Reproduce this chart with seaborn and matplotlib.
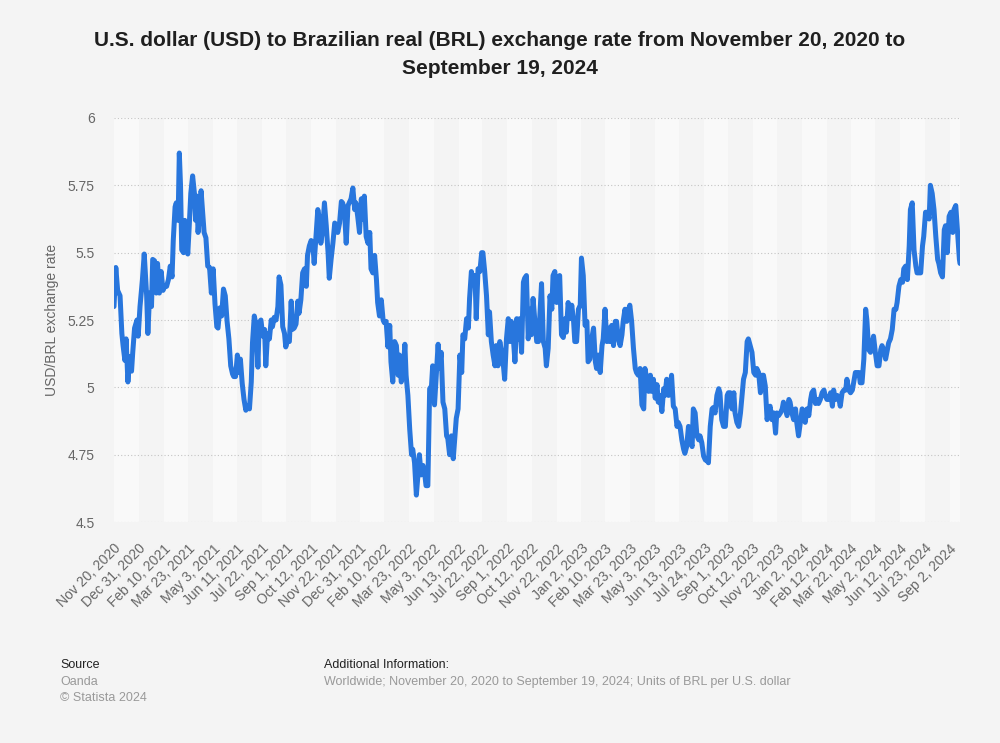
import matplotlib
matplotlib.use("Agg")
import matplotlib.pyplot as plt
import pandas as pd
import seaborn as sns

# USD/BRL rate; x as days after the first date
start_date = "2020-11-20"
end_date = "2024-09-19"

day_offset = [
    0, 3, 6, 10, 13, 15, 18, 20, 23, 26, 29, 31, 34, 38, 40, 43, 47, 50, 54, 56,
    59, 62, 64, 67, 70, 72, 75, 78, 81, 84, 87, 90, 93, 96, 98, 101, 103, 106, 108, 110,
    112, 115, 117, 119, 122, 124, 127, 130, 133, 135, 137, 139, 142, 144, 146, 149, 152, 155, 158, 161,
    164, 167, 170, 172, 175, 178, 181, 184, 187, 190, 193, 196, 198, 201, 204, 207, 209, 212, 215, 218,
    220, 224, 227, 229, 232, 235, 238, 240, 243, 246, 249, 251, 254, 257, 260, 262, 265, 268, 271, 273,
    276, 279, 282, 284, 287, 290, 293, 295, 298, 301, 304, 306, 309, 312, 315, 318, 320, 323, 326, 329,
    331, 334, 337, 340, 342, 345, 348, 351, 354, 356, 359, 362, 365, 367, 370, 373, 376, 378, 381, 384,
    387, 389, 392, 395, 398, 400, 403, 406, 409, 411, 414, 417, 420, 423, 425, 428, 431, 434, 436, 439,
    442, 445, 447, 450, 453, 456, 458, 461, 464, 467, 470, 472, 475, 478, 481, 483, 486, 489, 492, 494,
    497, 500, 503, 505, 508, 511, 514, 516, 519, 522, 525, 527, 530, 533, 536, 538, 541, 544, 547, 550,
    552, 555, 558, 561, 563, 566, 569, 572, 575, 577, 580, 583, 586, 588, 591, 594, 597, 599, 602, 605,
    608, 610, 613, 616, 619, 621, 624, 627, 630, 632, 635, 638, 641, 644, 646, 649, 652, 655, 657, 660,
    663, 666, 668, 671, 674, 677, 679, 682, 685, 688, 690, 693, 696, 699, 702, 704, 707, 710, 713, 715,
    718, 721, 724, 726, 729, 732, 735, 737, 740, 743, 746, 748, 751, 754, 757, 760, 762, 765, 768, 771,
    773, 776, 779, 782, 784, 787, 790, 793, 796, 798, 801, 804, 807, 809, 812, 815, 818, 820, 823, 826,
    829, 831, 834, 837, 840, 842, 845, 848, 851, 853, 856, 859, 862, 864, 867, 870, 873, 876, 878, 881,
    884, 887, 889, 892, 895, 898, 900, 903, 906, 909, 911, 914, 917, 920, 922, 925, 928, 931, 933, 936,
    939, 942, 944, 947, 950, 953, 956, 958, 961, 964, 967, 969, 972, 975, 978, 980, 983, 986, 989, 991,
    994, 997, 1000, 1002, 1005, 1008, 1011, 1014, 1016, 1019, 1022, 1025, 1027, 1030, 1033, 1036, 1038, 1041, 1044, 1047,
    1049, 1052, 1055, 1058, 1061, 1063, 1066, 1069, 1072, 1074, 1077, 1080, 1083, 1085, 1088, 1091, 1094, 1096, 1099, 1102,
    1105, 1107, 1110, 1113, 1116, 1118, 1121, 1124, 1127, 1129, 1132, 1135, 1138, 1141, 1143, 1146, 1149, 1152, 1154, 1157,
    1160, 1163, 1165, 1168, 1171, 1174, 1176, 1179, 1182, 1185, 1188, 1190, 1193, 1196, 1199, 1201, 1204, 1207, 1210, 1212,
    1215, 1218, 1221, 1223, 1226, 1229, 1232, 1234, 1237, 1240, 1243, 1245, 1248, 1251, 1254, 1256, 1259, 1262, 1265, 1268,
    1270, 1273, 1276, 1279, 1281, 1284, 1287, 1290, 1293, 1295, 1298, 1301, 1304, 1306, 1309, 1312, 1315, 1317, 1320, 1323,
    1326, 1328, 1331, 1334, 1337, 1339, 1342, 1345, 1348, 1350, 1353, 1356, 1359, 1362, 1364, 1367, 1370, 1373, 1375, 1378,
    1381, 1384, 1387, 1389, 1392, 1395, 1398, 1399,
]

usd_brl = [
    5.30, 5.445, 5.36, 5.34, 5.20, 5.155, 5.10, 5.18, 5.02, 5.115, 5.06, 5.13, 5.22, 5.25, 5.19, 5.30, 5.40, 5.495, 5.34, 5.20,
    5.35, 5.30, 5.475, 5.47, 5.35, 5.46, 5.35, 5.43, 5.36, 5.375, 5.375, 5.40, 5.45, 5.41, 5.545, 5.67, 5.685, 5.62, 5.87, 5.75,
    5.51, 5.50, 5.62, 5.57, 5.495, 5.58, 5.72, 5.785, 5.72, 5.62, 5.71, 5.575, 5.66, 5.73, 5.67, 5.575, 5.555, 5.45, 5.445, 5.35,
    5.44, 5.31, 5.225, 5.22, 5.295, 5.265, 5.365, 5.34, 5.245, 5.18, 5.08, 5.05, 5.04, 5.04, 5.12, 5.055, 5.105, 5.015, 4.955, 4.915,
    4.93, 4.92, 5.02, 5.165, 5.265, 5.23, 5.075, 5.24, 5.25, 5.19, 5.215, 5.08, 5.20, 5.18, 5.25, 5.225, 5.26, 5.25, 5.30, 5.41,
    5.38, 5.225, 5.20, 5.15, 5.175, 5.17, 5.32, 5.215, 5.22, 5.235, 5.32, 5.275, 5.325, 5.425, 5.44, 5.375, 5.49, 5.525, 5.545, 5.525,
    5.46, 5.56, 5.66, 5.62, 5.535, 5.585, 5.685, 5.60, 5.50, 5.405, 5.475, 5.535, 5.61, 5.605, 5.575, 5.61, 5.69, 5.685, 5.66, 5.535,
    5.675, 5.685, 5.70, 5.74, 5.66, 5.685, 5.635, 5.575, 5.70, 5.625, 5.71, 5.56, 5.535, 5.575, 5.44, 5.425, 5.49, 5.40, 5.315, 5.265,
    5.325, 5.25, 5.24, 5.245, 5.15, 5.23, 5.095, 5.02, 5.17, 5.155, 5.045, 5.12, 5.02, 5.045, 5.16, 5.045, 4.97, 4.845, 4.75, 4.77,
    4.72, 4.60, 4.685, 4.75, 4.675, 4.71, 4.675, 4.635, 4.635, 4.995, 5.005, 5.08, 4.935, 5.045, 5.16, 5.07, 5.13, 4.945, 4.92, 4.82,
    4.81, 4.75, 4.82, 4.735, 4.795, 4.885, 4.92, 5.12, 5.055, 5.195, 5.18, 5.255, 5.22, 5.33, 5.43, 5.39, 5.415, 5.255, 5.44, 5.43,
    5.50, 5.50, 5.43, 5.34, 5.195, 5.28, 5.17, 5.12, 5.08, 5.155, 5.08, 5.17, 5.13, 5.08, 5.03, 5.18, 5.255, 5.17, 5.245, 5.195,
    5.095, 5.255, 5.18, 5.255, 5.13, 5.39, 5.405, 5.415, 5.18, 5.29, 5.195, 5.33, 5.245, 5.17, 5.17, 5.255, 5.385, 5.17, 5.145, 5.08,
    5.145, 5.34, 5.29, 5.415, 5.43, 5.315, 5.405, 5.415, 5.195, 5.185, 5.255, 5.205, 5.315, 5.255, 5.305, 5.245, 5.17, 5.17, 5.29, 5.305,
    5.48, 5.415, 5.23, 5.245, 5.095, 5.105, 5.18, 5.22, 5.095, 5.07, 5.12, 5.055, 5.155, 5.18, 5.29, 5.17, 5.22, 5.17, 5.23, 5.155,
    5.245, 5.245, 5.18, 5.155, 5.195, 5.245, 5.29, 5.245, 5.29, 5.305, 5.245, 5.145, 5.07, 5.055, 5.045, 5.07, 4.935, 4.92, 5.07, 5.03,
    4.985, 5.045, 4.985, 5.03, 4.96, 5.01, 4.945, 4.97, 4.91, 4.995, 4.97, 5.03, 4.97, 4.995, 5.045, 4.93, 4.92, 4.855, 4.87, 4.855,
    4.805, 4.77, 4.755, 4.78, 4.855, 4.805, 4.78, 4.92, 4.905, 4.82, 4.805, 4.82, 4.795, 4.745, 4.73, 4.73, 4.72, 4.855, 4.92, 4.925,
    4.905, 4.97, 4.995, 4.98, 4.88, 4.855, 4.855, 4.97, 4.98, 4.98, 4.92, 4.98, 4.905, 4.87, 4.855, 4.905, 4.955, 5.03, 5.055, 5.17,
    5.18, 5.155, 5.13, 5.055, 5.045, 5.07, 5.055, 4.98, 5.045, 5.045, 5.005, 4.88, 4.92, 4.93, 4.88, 4.905, 4.83, 4.905, 4.895, 4.905,
    4.92, 4.945, 4.92, 4.895, 4.955, 4.945, 4.905, 4.88, 4.92, 4.87, 4.82, 4.87, 4.92, 4.905, 4.87, 4.92, 4.895, 4.955, 4.98, 4.99,
    4.94, 4.955, 4.94, 4.955, 4.98, 4.99, 4.97, 4.955, 4.955, 4.98, 4.93, 4.99, 4.955, 4.97, 4.955, 4.93, 4.98, 4.99, 4.99, 5.03,
    4.99, 4.98, 4.99, 5.017, 5.055, 5.055, 5.055, 5.017, 5.017, 5.105, 5.29, 5.25, 5.14, 5.13, 5.165, 5.19, 5.13, 5.08, 5.08, 5.14,
    5.155, 5.14, 5.105, 5.14, 5.165, 5.18, 5.215, 5.29, 5.29, 5.315, 5.375, 5.40, 5.39, 5.44, 5.45, 5.40, 5.525, 5.66, 5.685, 5.51,
    5.45, 5.425, 5.425, 5.425, 5.525, 5.56, 5.65, 5.65, 5.625, 5.75, 5.72, 5.66, 5.56, 5.475, 5.46, 5.425, 5.41, 5.585, 5.60, 5.50,
    5.635, 5.65, 5.575, 5.66, 5.675, 5.575, 5.475, 5.46,
]

tick_dates = [
    "2020-11-20", "2020-12-31", "2021-02-10", "2021-03-23", "2021-05-03", "2021-06-11",
    "2021-07-22", "2021-09-01", "2021-10-12", "2021-11-22", "2021-12-31", "2022-02-10",
    "2022-03-23", "2022-05-03", "2022-06-13", "2022-07-22", "2022-09-01", "2022-10-12",
    "2022-11-22", "2023-01-02", "2023-02-10", "2023-03-23", "2023-05-03", "2023-06-13",
    "2023-07-24", "2023-09-01", "2023-10-12", "2023-11-22", "2024-01-02", "2024-02-12",
    "2024-03-22", "2024-05-02", "2024-06-12", "2024-07-23", "2024-09-02",
]
y_ticks = [4.5, 4.75, 5, 5.25, 5.5, 5.75, 6]

title = ("U.S. dollar (USD) to Brazilian real (BRL) exchange rate from November 20, 2020 to\n"
         "September 19, 2024")
y_label = "USD/BRL exchange rate"
source_lines = ["Oanda", "\u00a9 Statista 2024"]
additional_info = "Worldwide; November 20, 2020 to September 19, 2024; Units of BRL per U.S. dollar"

df = pd.DataFrame({
    "date": pd.Timestamp(start_date) + pd.to_timedelta(day_offset, unit="D"),
    "rate": usd_brl,
})

sns.set_theme(style="white")
plt.rcParams["font.family"] = ["Liberation Sans", "DejaVu Sans"]

bg = "#f4f4f4"
fig = plt.figure(figsize=(10, 7.43), dpi=100, facecolor=bg)
ax = fig.add_axes([0.114, 0.2974, 0.846, 0.5438])
ax.set_facecolor(bg)

# alternating column bands between the date ticks
ticks = pd.to_datetime(tick_dates)
edges = list(ticks) + [pd.Timestamp(end_date)]
for i in range(len(ticks)):
    ax.axvspan(edges[i], edges[i + 1], color="#f9f9f9" if i % 2 == 0 else "#f4f4f4",
               lw=0, zorder=0)

sns.lineplot(data=df, x="date", y="rate", ax=ax, color="#2876dd", linewidth=3.6,
             solid_joinstyle="round", solid_capstyle="round", zorder=3)

ax.set_xlim(pd.Timestamp(start_date), pd.Timestamp(end_date))
ax.set_ylim(4.5, 6)
ax.set_yticks(y_ticks)
ax.set_yticklabels([f"{v:g}" for v in y_ticks])
ax.set_xticks(ticks)
ax.set_xticklabels([f"{d.strftime('%b')} {d.day}, {d.year}" for d in ticks])
plt.setp(ax.get_xticklabels(), rotation=45, ha="right", rotation_mode="anchor")

ax.tick_params(axis="both", length=0, labelsize=10, colors="#666666")
ax.tick_params(axis="x", pad=14)
ax.tick_params(axis="y", pad=14)
ax.set_xlabel("")
ax.set_ylabel("")
ax.yaxis.grid(True, linestyle=(0, (1, 2)), color="#c4c4c4", linewidth=0.8)
ax.xaxis.grid(False)
ax.set_axisbelow(True)
for s in ax.spines.values():
    s.set_visible(False)

fig.text(0.052, 0.569, y_label, rotation=90, ha="center", va="center",
         fontsize=10, color="#666666")

fig.text(0.5, 1 - 31 / 743, title, ha="center", va="top", fontsize=15,
         fontweight="bold", color="#1f1f1f", linespacing=1.6)

fig.text(0.060, 1 - 665 / 743, "Source", ha="left", va="center", fontsize=9,
         color="#222222")
for k, line in enumerate(source_lines):
    fig.text(0.060, 1 - (682 + 16 * k) / 743, line, ha="left", va="center",
             fontsize=9, color="#999999")
fig.text(0.324, 1 - 665 / 743, "Additional Information:", ha="left", va="center",
         fontsize=9, color="#222222")
fig.text(0.324, 1 - 682 / 743, additional_info, ha="left", va="center",
         fontsize=9, color="#999999")

fig.savefig("out.png", dpi=100, facecolor=bg)
